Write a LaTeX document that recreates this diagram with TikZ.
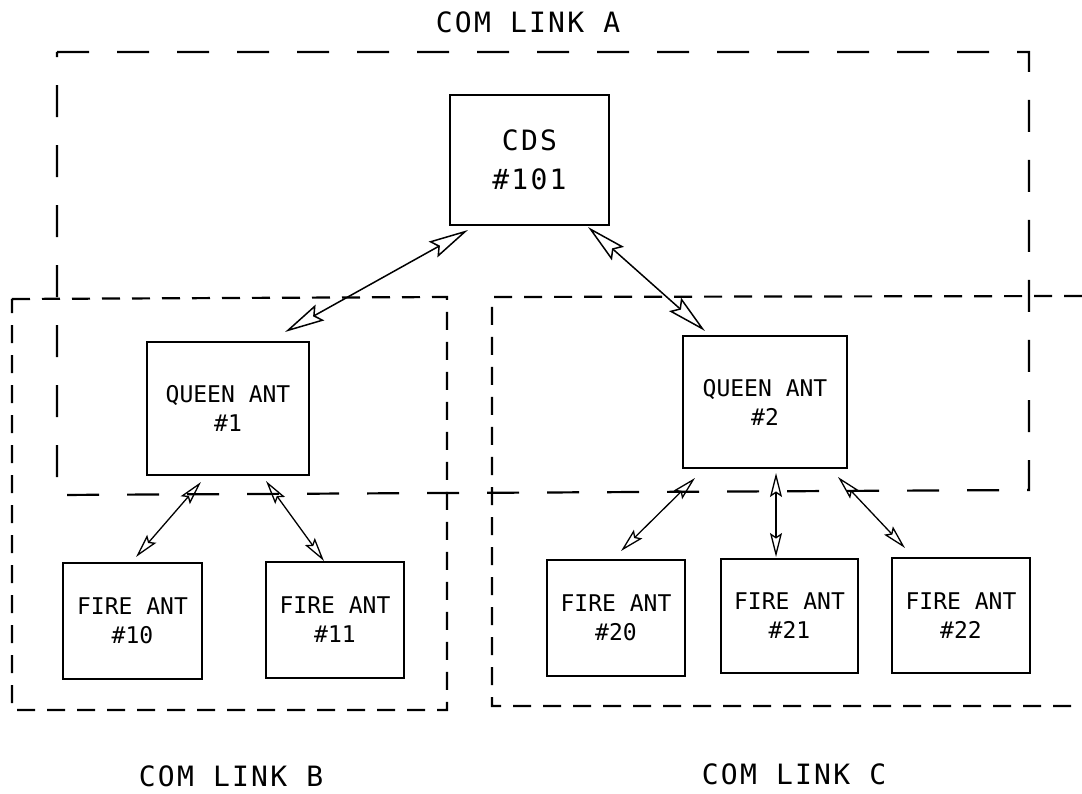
\documentclass[tikz,border=0pt]{standalone}
\usepackage{fontspec}
\newfontfamily\plotbig{DejaVu Sans Mono}[LetterSpace=8]
\newfontfamily\plotsmall{DejaVu Sans Mono}
\usetikzlibrary{arrows.meta}
\tikzset{
  unitbox/.style={draw, line width=2pt, align=center, inner sep=0pt},
  bigbox/.style={unitbox, font=\plotbig\fontsize{28}{39}\selectfont},
  smallbox/.style={unitbox, font=\plotsmall\fontsize{23}{29}\selectfont},
  linklabel/.style={anchor=base, inner sep=0pt, font=\plotbig\fontsize{28}{34}\selectfont},
  framea/.style={line width=2.2pt, dash pattern=on 32pt off 28pt},
  framebc/.style={line width=2.2pt, dash pattern=on 18pt off 12pt},
  bighead/.style={Stealth[open,length=40pt,width=18pt,inset=6pt]},
  smallhead/.style={Stealth[open,length=24pt,width=12pt,inset=4pt]},
  bigbi/.style={line width=1.5pt, {Stealth[open,length=40pt,width=18pt,inset=6pt]}-{Stealth[open,length=40pt,width=18pt,inset=6pt]}},
  smallbi/.style={line width=1.3pt, {Stealth[open,length=24pt,width=12pt,inset=4pt]}-{Stealth[open,length=24pt,width=12pt,inset=4pt]}},
}
\begin{document}
\begin{tikzpicture}[x=1pt,y=-1pt]
\useasboundingbox[fill=white] (0,0) rectangle (1082,794);

% frames
\draw[framea] (57,52) -- (1029,52) -- (1029,490) -- (57,495) -- cycle;
\draw[framebc] (12,299) -- (447,297) -- (447,710) -- (12,710) -- cycle;
\draw[framebc] (1082,296) -- (492,297) -- (492,706) -- (1082,706);

% labels
\node[linklabel] (la) at (528,33) {COM LINK A};
\node[linklabel] (lb) at (231,786) {COM LINK B};
\node[linklabel] (lc) at (794,784) {COM LINK C};

% boxes
\node[bigbox, minimum width=159pt, minimum height=130pt] (cds) at (529.5,160) {CDS\\\#101};
\node[smallbox, minimum width=162pt, minimum height=133pt] (qa1) at (228,408.5) {QUEEN ANT\\\#1};
\node[smallbox, minimum width=164pt, minimum height=132pt] (qa2) at (765,402) {QUEEN ANT\\\#2};
\node[smallbox, minimum width=139pt, minimum height=116pt] (fa10) at (132.5,621) {FIRE ANT\\\#10};
\node[smallbox, minimum width=138pt, minimum height=116pt] (fa11) at (335,620) {FIRE ANT\\\#11};
\node[smallbox, minimum width=138pt, minimum height=116pt] (fa20) at (616,618) {FIRE ANT\\\#20};
\node[smallbox, minimum width=137pt, minimum height=114pt] (fa21) at (789.5,616) {FIRE ANT\\\#21};
\node[smallbox, minimum width=138pt, minimum height=115pt] (fa22) at (961,615.5) {FIRE ANT\\\#22};

% connectors
\draw[bigbi] ([shift={(19,4)}]cds.south west) -- ([shift={(-25,-9)}]qa1.north east);
\draw[bigbi] ([shift={(-22,1)}]cds.south east) -- ([shift={(23,-4)}]qa2.north west);
\draw[smallbi] ([shift={(-27,6)}]qa1.south) -- ([shift={(3.5,-5)}]fa10.north);
\draw[smallbi] ([shift={(38,5)}]qa1.south) -- ([shift={(-11,0)}]fa11.north);
\draw[smallbi] ([shift={(-70,9)}]qa2.south) -- ([shift={(5,-8)}]fa20.north);
\draw[smallbi] ([shift={(11,4)}]qa2.south) -- ([shift={(-13.5,-1)}]fa21.north);
\draw[smallbi] ([shift={(73,8)}]qa2.south) -- ([shift={(-56,-9)}]fa22.north);
\end{tikzpicture}
\end{document}
